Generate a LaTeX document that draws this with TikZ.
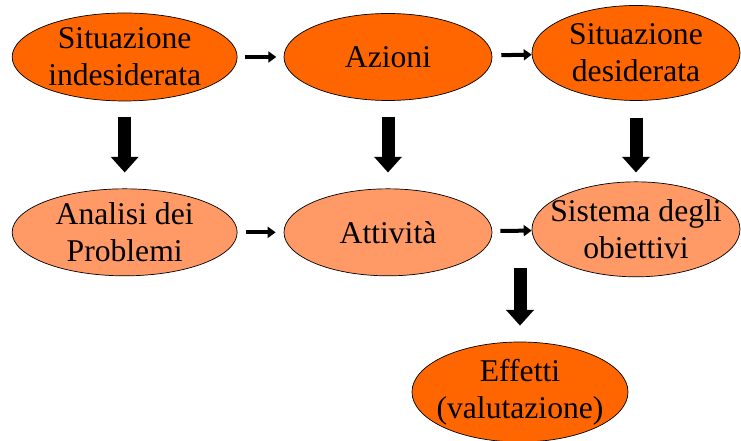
\documentclass[tikz,border=0pt]{standalone}
\usepackage{fontspec}
\setmainfont{Liberation Serif}
\usetikzlibrary{shapes.geometric,arrows.meta,calc}
\definecolor{darkorange}{HTML}{FF6600}
\definecolor{lightorange}{HTML}{FF9966}
\tikzset{
  blob/.style={ellipse,draw,line width=0.6pt,inner xsep=-12pt,inner ysep=-8pt,
    align=center,font=\fontsize{27}{31.6}\selectfont},
  darkblob/.style={blob,fill=darkorange},
  lightblob/.style={blob,fill=lightorange},
  fatarrow/.style={line width=0.39cm,-{Triangle[width=0.81cm,length=0.47cm]}},
  thinarrow/.style={line width=0.12cm,-{Triangle[width=0.33cm,length=0.24cm]}}
}
\begin{document}
\begin{tikzpicture}
        \useasboundingbox (0,0) rectangle (22.23,13.23);

        % Top row
        \node[darkblob,minimum width=6.75cm,minimum height=2.64cm] (sitind) at (3.74,11.52) {Situazione\\indesiderata};
        \node[darkblob,minimum width=6.24cm,minimum height=2.61cm] (azioni) at (11.64,11.52) {Azioni};
        \node[darkblob,minimum width=6.24cm,minimum height=2.85cm] (sitdes) at (19.08,11.64) {Situazione\\desiderata};

        % Middle row
        \node[lightblob,minimum width=6.75cm,minimum height=2.61cm] (analisi) at (3.74,6.26) {Analisi dei\\Problemi};
        \node[lightblob,minimum width=6.24cm,minimum height=2.61cm] (attivita) at (11.64,6.26) {Attività};
        \node[lightblob,minimum width=6.24cm,minimum height=2.85cm] (sistema) at (19.08,6.35) {Sistema degli\\obiettivi};

        % Bottom
        \node[darkblob,minimum width=6.48cm,minimum height=3.0cm] (effetti) at (15.6,1.47) {Effetti\\(valutazione)};

        % Horizontal arrows
        \draw[thinarrow,shorten <=0.22cm,shorten >=0.22cm] (sitind) -- (azioni);
        \draw[thinarrow,shorten <=0.27cm] (azioni) -- (sitdes);
        \draw[thinarrow,shorten <=0.24cm,shorten >=0.24cm] (analisi) -- (attivita);
        \draw[thinarrow,shorten <=0.24cm] (attivita) -- (sistema);

        % Downward arrows
        \draw[fatarrow,shorten <=0.48cm,shorten >=0.48cm] (sitind) -- (analisi);
        \draw[fatarrow,shorten <=0.48cm,shorten >=0.48cm] (azioni) -- (attivita);
        \draw[fatarrow,shorten <=0.5cm,shorten >=0.27cm] (sitdes) -- (sistema);
        \draw[fatarrow,shorten >=0.48cm] ($(effetti.north |- sistema.south)+(0,0.27)$) -- (effetti.north);
    \end{tikzpicture}
\end{document}
